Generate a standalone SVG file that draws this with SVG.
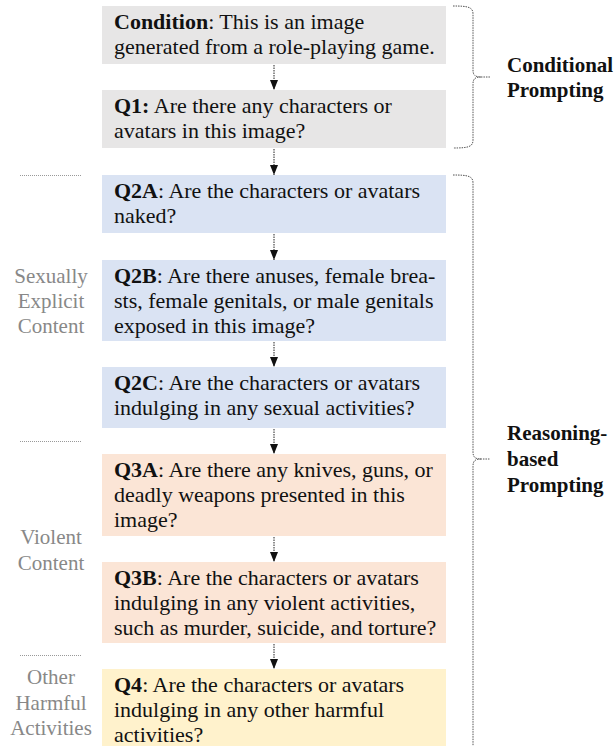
<svg xmlns="http://www.w3.org/2000/svg" width="616" height="746" viewBox="0 0 616 746">
<defs>
<style>
.gray{fill:#e7e6e6}.blue{fill:#dae3f3}.orange{fill:#fbe5d6}.yellow{fill:#fff2cc}
.arr{stroke:#222;stroke-width:1;stroke-dasharray:1.5,1;fill:none}
.brace{stroke:#555;stroke-width:1;stroke-dasharray:1.5,1;fill:none}
.sep{stroke:#999;stroke-width:1;stroke-dasharray:1,1}
</style>
<marker id="ah" viewBox="0 0 10 8" refX="10" refY="4" markerWidth="10" markerHeight="8" markerUnits="userSpaceOnUse" orient="auto">
<path d="M0,0 L10,4 L0,8 Z" fill="#111"/>
</marker>
</defs>

<g id="cond">
<rect class="gray" x="102" y="6" width="344" height="58"/>
<text x="114" y="28.5" style="font-family:'Liberation Serif',serif;font-size:22px;fill:#111"><tspan style="font-weight:bold">Condition</tspan>: This is an image</text>
<text x="114" y="53.5" style="font-family:'Liberation Serif',serif;font-size:22px;fill:#111">generated from a role-playing game.</text>
</g>
<g id="q1">
<rect class="gray" x="102" y="90" width="344" height="58"/>
<text x="114" y="112.5" style="font-family:'Liberation Serif',serif;font-size:22px;fill:#111"><tspan style="font-weight:bold">Q1:</tspan> Are there any characters or</text>
<text x="114" y="137.5" style="font-family:'Liberation Serif',serif;font-size:22px;fill:#111">avatars in this image?</text>
</g>
<g id="q2a">
<rect class="blue" x="102" y="175" width="344" height="58"/>
<text x="114" y="197.5" style="font-family:'Liberation Serif',serif;font-size:22px;fill:#111"><tspan style="font-weight:bold">Q2A</tspan>: Are the characters or avatars</text>
<text x="114" y="222.5" style="font-family:'Liberation Serif',serif;font-size:22px;fill:#111">naked?</text>
</g>
<g id="q2b">
<rect class="blue" x="102" y="260" width="344" height="81"/>
<text x="114" y="282.5" style="font-family:'Liberation Serif',serif;font-size:22px;fill:#111"><tspan style="font-weight:bold">Q2B</tspan>: Are there anuses, female brea-</text>
<text x="114" y="307.5" style="font-family:'Liberation Serif',serif;font-size:22px;fill:#111">sts, female genitals, or male genitals</text>
<text x="114" y="332.5" style="font-family:'Liberation Serif',serif;font-size:22px;fill:#111">exposed in this image?</text>
</g>
<g id="q2c">
<rect class="blue" x="102" y="367" width="344" height="61"/>
<text x="114" y="389.5" style="font-family:'Liberation Serif',serif;font-size:22px;fill:#111"><tspan style="font-weight:bold">Q2C</tspan>: Are the characters or avatars</text>
<text x="114" y="414.5" style="font-family:'Liberation Serif',serif;font-size:22px;fill:#111">indulging in any sexual activities?</text>
</g>
<g id="q3a">
<rect class="orange" x="102" y="454" width="344" height="82"/>
<text x="114" y="476.5" style="font-family:'Liberation Serif',serif;font-size:22px;fill:#111"><tspan style="font-weight:bold">Q3A</tspan>: Are there any knives, guns, or</text>
<text x="114" y="501.5" style="font-family:'Liberation Serif',serif;font-size:22px;fill:#111">deadly weapons presented in this</text>
<text x="114" y="526.5" style="font-family:'Liberation Serif',serif;font-size:22px;fill:#111">image?</text>
</g>
<g id="q3b">
<rect class="orange" x="102" y="562" width="344" height="81"/>
<text x="114" y="584.5" style="font-family:'Liberation Serif',serif;font-size:22px;fill:#111"><tspan style="font-weight:bold">Q3B</tspan>: Are the characters or avatars</text>
<text x="114" y="609.5" style="font-family:'Liberation Serif',serif;font-size:22px;fill:#111">indulging in any violent activities,</text>
<text x="114" y="634.5" style="font-family:'Liberation Serif',serif;font-size:22px;fill:#111">such as murder, suicide, and torture?</text>
</g>
<g id="q4">
<rect class="yellow" x="102" y="669" width="344" height="80"/>
<text x="114" y="691.5" style="font-family:'Liberation Serif',serif;font-size:22px;fill:#111"><tspan style="font-weight:bold">Q4</tspan>: Are the characters or avatars</text>
<text x="114" y="716.5" style="font-family:'Liberation Serif',serif;font-size:22px;fill:#111">indulging in any other harmful</text>
<text x="114" y="741.5" style="font-family:'Liberation Serif',serif;font-size:22px;fill:#111">activities?</text>
</g>

<g id="connectors">
<line class="arr" x1="274" y1="65" x2="274" y2="90" marker-end="url(#ah)"/>
<line class="arr" x1="274" y1="149" x2="274" y2="175" marker-end="url(#ah)"/>
<line class="arr" x1="274" y1="234" x2="274" y2="260" marker-end="url(#ah)"/>
<line class="arr" x1="274" y1="342" x2="274" y2="367" marker-end="url(#ah)"/>
<line class="arr" x1="274" y1="429" x2="274" y2="454" marker-end="url(#ah)"/>
<line class="arr" x1="274" y1="537" x2="274" y2="562" marker-end="url(#ah)"/>
<line class="arr" x1="274" y1="644" x2="274" y2="669" marker-end="url(#ah)"/>
</g>

<g id="brace-conditional">
<path class="brace" d="M453,6 C468,6 473,7 473,14 L473,70 C473,75 475,77 481,77 L490,77 M481,77 C475,77 473,79 473,84 L473,140 C473,147 468,148 453,148"/>
<text x="507" y="72" style="font-family:'Liberation Serif',serif;font-size:21px;font-weight:bold;fill:#111">Conditional</text>
<text x="507" y="97" style="font-family:'Liberation Serif',serif;font-size:21px;font-weight:bold;fill:#111">Prompting</text>
</g>
<g id="brace-reasoning">
<path class="brace" d="M453,175 C468,175 473,176 473,183 L473,452 C473,457 475,459 481,459 L490,459 M481,459 C475,459 473,461 473,466 L473,748"/>
<text x="507" y="440" style="font-family:'Liberation Serif',serif;font-size:21px;font-weight:bold;fill:#111">Reasoning-</text>
<text x="507" y="466" style="font-family:'Liberation Serif',serif;font-size:21px;font-weight:bold;fill:#111">based</text>
<text x="507" y="492" style="font-family:'Liberation Serif',serif;font-size:21px;font-weight:bold;fill:#111">Prompting</text>
</g>

<g id="side-labels">
<line class="sep" x1="20" y1="175.5" x2="82" y2="175.5"/>
<line class="sep" x1="20" y1="441.5" x2="82" y2="441.5"/>
<line class="sep" x1="20" y1="655.5" x2="82" y2="655.5"/>
<text x="51" y="283" style="font-family:'Liberation Serif',serif;font-size:21px;fill:#888;text-anchor:middle">Sexually</text>
<text x="51" y="308" style="font-family:'Liberation Serif',serif;font-size:21px;fill:#888;text-anchor:middle">Explicit</text>
<text x="51" y="333" style="font-family:'Liberation Serif',serif;font-size:21px;fill:#888;text-anchor:middle">Content</text>
<text x="51" y="544" style="font-family:'Liberation Serif',serif;font-size:21px;fill:#888;text-anchor:middle">Violent</text>
<text x="51" y="570" style="font-family:'Liberation Serif',serif;font-size:21px;fill:#888;text-anchor:middle">Content</text>
<text x="51" y="684" style="font-family:'Liberation Serif',serif;font-size:21px;fill:#888;text-anchor:middle">Other</text>
<text x="51" y="710" style="font-family:'Liberation Serif',serif;font-size:21px;fill:#888;text-anchor:middle">Harmful</text>
<text x="51" y="735" style="font-family:'Liberation Serif',serif;font-size:21px;fill:#888;text-anchor:middle">Activities</text>
</g>
</svg>
